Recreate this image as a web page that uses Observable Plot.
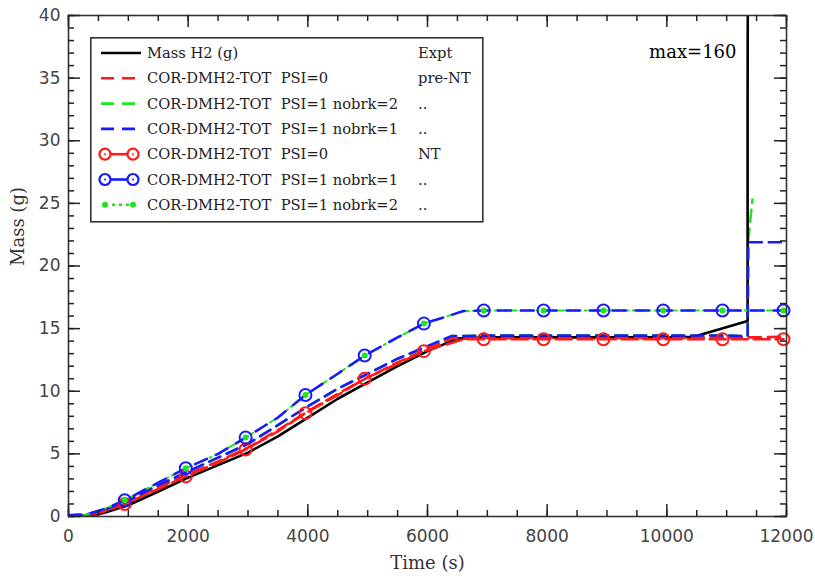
<!DOCTYPE html>
<html><head><meta charset="utf-8">
<script src="https://cdn.jsdelivr.net/npm/d3@7"></script>
<script src="https://cdn.jsdelivr.net/npm/@observablehq/plot@0.6"></script>
<style>
body{margin:0;background:#fff;}
#wrap{position:relative;width:815px;height:581px;}
#legend{position:absolute;left:90px;top:37px;}
#legend text{white-space:pre;}
</style></head><body>
<div id="wrap"><div id="chart"></div><svg id="legend" width="394" height="186"></svg></div>
<script>
// Experimental curve (Mass H2)
const exptTime = [0, 300, 600, 1000, 1500, 2000, 2500, 3000, 3500, 4000, 4500, 5000, 5500, 6000, 6500, 7000, 8000, 9000, 10000, 10450, 11350, 11350, 11400];
const exptMass = [0, 0, 0.3, 0.9, 2.0, 3.1, 4.1, 5.1, 6.4, 7.9, 9.4, 10.7, 12.0, 13.2, 14.2, 14.3, 14.3, 14.3, 14.3, 14.35, 15.6, 33.5, 160];

// pre-NT calculations
const preTime = [0, 300, 600, 1000, 1500, 2000, 2500, 3000, 3500, 4000, 4500, 5000, 5500, 6000, 6400, 7000, 8000, 9000, 10000, 11000, 11350, 12000];
const prePsi0 = [0.05, 0.1, 0.45, 1.15, 2.3, 3.4, 4.4, 5.5, 6.9, 8.4, 9.8, 11.1, 12.3, 13.4, 14.2, 14.25, 14.25, 14.25, 14.25, 14.3, 14.3, 14.35];
const prePsi1n1Time = [0, 300, 600, 1000, 1500, 2000, 2500, 3000, 3500, 4000, 4500, 5000, 5500, 6000, 6400, 7000, 8000, 9000, 10000, 11000, 11350, 11360, 12000];
const prePsi1n1 = [0.1, 0.15, 0.55, 1.3, 2.5, 3.6, 4.7, 5.8, 7.3, 8.8, 10.2, 11.4, 12.6, 13.6, 14.4, 14.45, 14.45, 14.45, 14.45, 14.45, 14.4, 21.9, 21.9];
const prePsi1n2Time = [0, 300, 600, 1000, 1500, 2000, 2500, 3000, 3500, 4000, 4500, 5000, 5500, 6000, 6400, 7000, 8000, 9000, 10000, 11000, 11350, 11360, 11430];
const prePsi1n2 = [0.1, 0.15, 0.55, 1.3, 2.5, 3.6, 4.7, 5.8, 7.3, 8.8, 10.2, 11.4, 12.6, 13.6, 14.4, 14.45, 14.45, 14.45, 14.45, 14.45, 14.4, 22.0, 25.3];

// NT calculations
const ntTime = [0, 300, 600, 940, 1500, 1960, 2500, 2960, 3500, 3960, 4500, 4950, 5500, 5940, 6600, 6940, 7940, 8940, 9940, 10930, 11950];
const ntPsi0 = [0.05, 0.1, 0.4, 1.0, 2.2, 3.2, 4.3, 5.35, 6.8, 8.25, 9.7, 11.0, 12.2, 13.2, 14.15, 14.15, 14.15, 14.15, 14.15, 14.15, 14.15];
const ntPsi1 = [0.1, 0.15, 0.6, 1.3, 2.7, 3.85, 5.0, 6.3, 7.9, 9.7, 11.4, 12.85, 14.3, 15.4, 16.4, 16.45, 16.45, 16.45, 16.45, 16.45, 16.45];
const markTimes = [940, 1960, 2960, 3960, 4950, 5940, 6940, 7940, 8940, 9940, 10930, 11950];

const xMajor = d3.range(0, 12001, 2000);
const xMinor = d3.range(0, 12001, 500);
const yMajor = d3.range(0, 41, 5);
const yMinor = d3.range(0, 41, 1);

const zip = (t, v) => t.map((x, i) => ({x, y: v[i]}));
const expt = zip(exptTime, exptMass);
const p0 = zip(preTime, prePsi0);
const p11 = zip(prePsi1n1Time, prePsi1n1);
const p12 = zip(prePsi1n2Time, prePsi1n2);
const n0 = zip(ntTime, ntPsi0);
const n1 = zip(ntTime, ntPsi1);
const n0m = n0.filter(d => markTimes.includes(d.x));
const n1m = n1.filter(d => markTimes.includes(d.x));

const RED = "#ff1a1a", GREEN = "#1ee61e", BLUE = "#1a1aff";
const DASH = "12,7", LW = 2.6;
const tickFont = {fontSize: 17, fill: "#444"};

const W = 815, H = 581, ML = 68, MR = 29, MT = 15, MB = 65;
const PW = W - ML - MR, PH = H - MT - MB;
const XMAX = 12000, YMAX = 40;
// tick lengths converted from pixels to data units
const ty = px => px / PH * YMAX;
const tx = px => px / PW * XMAX;
const TS = {stroke: "#222", strokeWidth: 1.5};

const chart = Plot.plot({
  width: W, height: H,
  marginLeft: ML, marginRight: MR, marginTop: MT, marginBottom: MB,
  style: {fontFamily: "'DejaVu Sans', sans-serif", background: "#fff"},
  x: {domain: [0, XMAX]},
  y: {domain: [0, YMAX]},
  marks: [
    // lines
    Plot.line(p12, {x: "x", y: "y", stroke: GREEN, strokeWidth: LW, strokeDasharray: DASH, clip: true}),
    Plot.line(expt, {x: "x", y: "y", stroke: "#000", strokeWidth: LW, clip: true}),
    Plot.line(n0, {x: "x", y: "y", stroke: RED, strokeWidth: LW, strokeDasharray: "16,6", clip: true}),
    Plot.line(p0, {x: "x", y: "y", stroke: RED, strokeWidth: LW, strokeDasharray: DASH, clip: true}),
    Plot.line(p11, {x: "x", y: "y", stroke: BLUE, strokeWidth: LW, strokeDasharray: DASH, clip: true}),
    Plot.line(n1, {x: "x", y: "y", stroke: GREEN, strokeWidth: 2, strokeDasharray: "6,4,2,4", clip: true}),
    Plot.line(n1, {x: "x", y: "y", stroke: BLUE, strokeWidth: LW, strokeDasharray: "13,10", clip: true}),
    Plot.dot(n0m, {x: "x", y: "y", r: 6, stroke: RED, strokeWidth: 2, fill: "none"}),
    Plot.dot(n1m, {x: "x", y: "y", r: 6, stroke: BLUE, strokeWidth: 2, fill: "none"}),
    Plot.dot(n1m, {x: "x", y: "y", r: 3, fill: GREEN, stroke: "none"}),
    // frame
    Plot.frame({stroke: "#333", strokeWidth: 1.6}),
    // inward ticks on all four sides (rules anchored on the frame edges)
    Plot.ruleX(xMajor, {x: d => d, y1: 0, y2: ty(12), ...TS}),
    Plot.ruleX(xMinor, {x: d => d, y1: 0, y2: ty(6), ...TS}),
    Plot.ruleX(xMajor, {x: d => d, y1: YMAX, y2: YMAX - ty(12), ...TS}),
    Plot.ruleX(xMinor, {x: d => d, y1: YMAX, y2: YMAX - ty(6), ...TS}),
    Plot.ruleY(yMajor, {y: d => d, x1: 0, x2: tx(12), ...TS}),
    Plot.ruleY(yMinor, {y: d => d, x1: 0, x2: tx(6), ...TS}),
    Plot.ruleY(yMajor, {y: d => d, x1: XMAX, x2: XMAX - tx(12), ...TS}),
    Plot.ruleY(yMinor, {y: d => d, x1: XMAX, x2: XMAX - tx(6), ...TS}),
    // tick labels
    Plot.axisX({anchor: "bottom", ticks: xMajor, tickSize: 0, tickPadding: 13, tickFormat: d => String(d), label: null, ...tickFont}),
    Plot.axisY({anchor: "left", ticks: yMajor, tickSize: 0, tickPadding: 8, tickFormat: d => String(d), label: null, ...tickFont}),
    // axis titles
    Plot.text(["Time (s)"], {frameAnchor: "bottom", dy: 52, fontSize: 18, fontFamily: "'DejaVu Serif', serif", fill: "#333"}),
    Plot.text(["Mass (g)"], {frameAnchor: "left", dx: -50, rotate: -90, fontSize: 18, fontFamily: "'DejaVu Serif', serif", fill: "#333"}),
    Plot.text(["max=160"], {frameAnchor: "top-right", dx: -50, dy: 30, textAnchor: "end", fontSize: 18, fontFamily: "'DejaVu Serif', serif", fill: "#000"})
  ]
});
document.getElementById("chart").appendChild(chart);

// Legend (inside plot area)
const legendLabels = ["Mass H2 (g)", "COR-DMH2-TOT  PSI=0", "COR-DMH2-TOT  PSI=1 nobrk=2", "COR-DMH2-TOT  PSI=1 nobrk=1", "COR-DMH2-TOT  PSI=0", "COR-DMH2-TOT  PSI=1 nobrk=1", "COR-DMH2-TOT  PSI=1 nobrk=2"];
const legendTags = ["Expt", "pre-NT", "..", "..", "NT", "..", ".."];
const legendStyles = [
  {stroke: "#000", dash: null, mark: null},
  {stroke: RED, dash: "13,8", mark: null},
  {stroke: GREEN, dash: "13,8", mark: null},
  {stroke: BLUE, dash: "13,8", mark: null},
  {stroke: RED, dash: null, mark: "ring"},
  {stroke: BLUE, dash: null, mark: "ring"},
  {stroke: GREEN, dash: "3,4", mark: "dot"}
];
const lg = d3.select("#legend");
lg.append("rect").attr("x", 0.8).attr("y", 0.8).attr("width", 392).attr("height", 184).attr("fill", "#fff").attr("stroke", "#333").attr("stroke-width", 1.6);
legendLabels.forEach((lab, i) => {
  const cy = 16 + i * 25.3;
  const s = legendStyles[i];
  const x1 = s.mark ? 15 : 11, x2 = s.mark ? 43 : 51;
  lg.append("line").attr("x1", x1).attr("x2", x2).attr("y1", cy).attr("y2", cy)
    .attr("stroke", s.stroke).attr("stroke-width", 2.6).attr("stroke-dasharray", s.dash);
  if (s.mark === "ring") {
    [x1, x2].forEach(cx => {
      lg.append("circle").attr("cx", cx).attr("cy", cy).attr("r", 5.5).attr("fill", "#fff").attr("stroke", s.stroke).attr("stroke-width", 2.2);
      lg.append("circle").attr("cx", cx).attr("cy", cy).attr("r", 1).attr("fill", s.stroke);
    });
  } else if (s.mark === "dot") {
    [x1, x2].forEach(cx => lg.append("circle").attr("cx", cx).attr("cy", cy).attr("r", 3).attr("fill", GREEN));
  }
  lg.append("text").attr("x", 57).attr("y", cy).attr("dy", "0.35em").attr("font-family", "'DejaVu Serif', serif").attr("font-size", 14.7).attr("fill", "#222").text(lab);
  lg.append("text").attr("x", 328).attr("y", cy).attr("dy", "0.35em").attr("font-family", "'DejaVu Serif', serif").attr("font-size", 14.7).attr("fill", "#222").text(legendTags[i]);
});
</script></body></html>
